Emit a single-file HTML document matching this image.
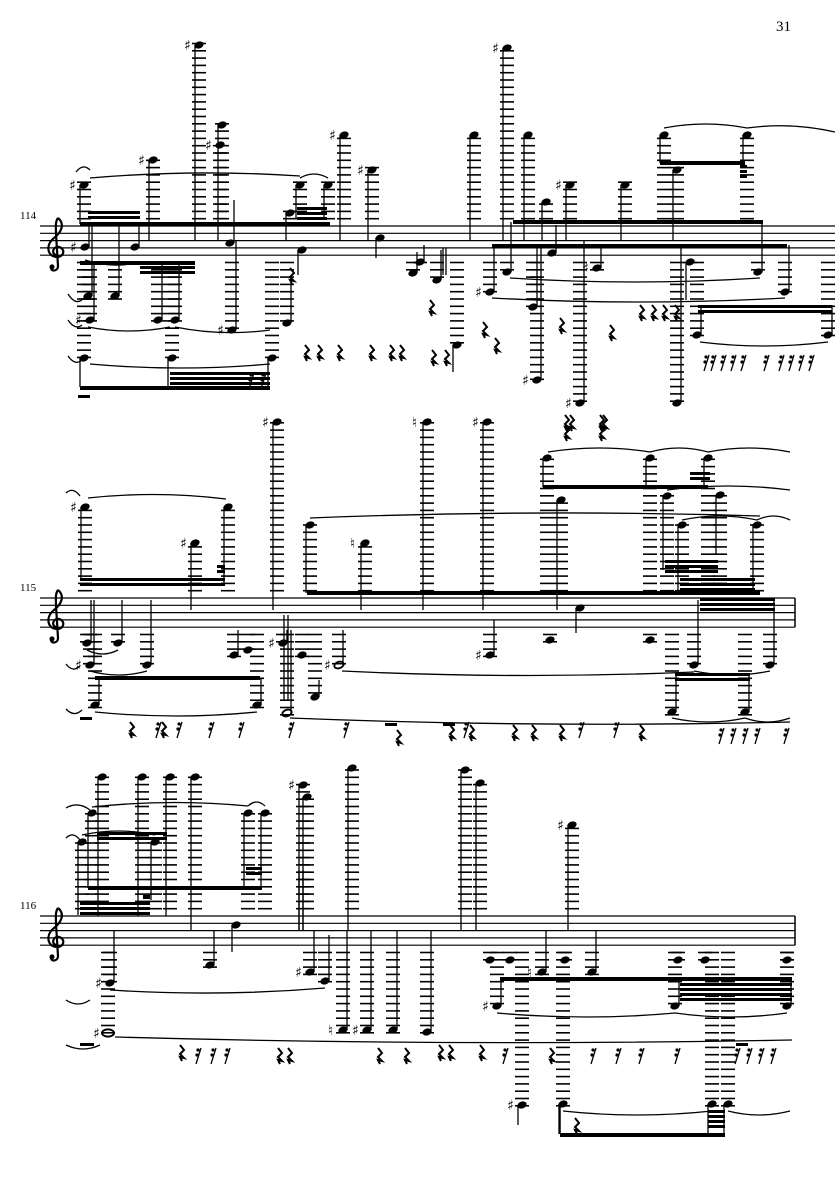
<!DOCTYPE html>
<html><head><meta charset="utf-8"><style>
html,body{margin:0;padding:0;background:#fff;}
svg{display:block;}
</style></head><body>
<svg id="s" xmlns="http://www.w3.org/2000/svg" width="835" height="1181" viewBox="0 0 835 1181">
<rect width="835" height="1181" fill="#fff"/>
<text x="776" y="31" font-family="Liberation Serif, serif" font-size="15">31</text>
<text x="20" y="219" font-family="Liberation Serif, serif" font-size="11">114</text>
<text x="20" y="591" font-family="Liberation Serif, serif" font-size="11">115</text>
<text x="20" y="909" font-family="Liberation Serif, serif" font-size="11">116</text>
<g id="g"></g>
</svg>
<script>
var S=7.3,o=[];
function L(x1,y1,x2,y2,w){o.push('<line x1="'+x1+'" y1="'+y1+'" x2="'+x2+'" y2="'+y2+'" stroke="#000" stroke-width="'+(w||1)+'"/>');}
function R(x,y,w,h){o.push('<rect x="'+x+'" y="'+y+'" width="'+w+'" height="'+h+'" fill="#000"/>');}
function staff(T,x1,x2){for(var i=0;i<5;i++)L(x1,T+i*S,x2,T+i*S,1.2);}
function clef(x,T){var g=T+3*S;o.push('<path transform="translate('+x+','+g+')" d="M3,-30 C10,-24 7,-16 -2,-9 C-9,-3 -8,8 1,9 C9,10 11,1 4,-1 C-2,-2 -4,6 1,7 M3,-30 C0,-26 1,-20 1,-14 L3,18 C3,24 -5,24 -4,19" fill="none" stroke="#000" stroke-width="2.2"/>');o.push('<circle cx="'+(x-3)+'" cy="'+(g+19)+'" r="2.5"/>');}
function note(T,n){var hx=n[0],y=n[1],se=n[2],acc=n[3],tp=n[4],B=T+4*S,k;
 if(y<T-3){for(k=1;T-k*S>=y-3;k++)L(hx-7,T-k*S,hx+7,T-k*S,1.6);}
 if(y>B+3){for(k=1;B+k*S<=y+3;k++)L(hx-7,B+k*S,hx+7,B+k*S,1.6);}
 if(tp=='w'){o.push('<ellipse cx="'+hx+'" cy="'+y+'" rx="6" ry="3.6" fill="none" stroke="#000" stroke-width="2"/>');}
 else if(tp=='h'){o.push('<ellipse cx="'+hx+'" cy="'+y+'" rx="4.8" ry="3.2" fill="none" stroke="#000" stroke-width="1.8" transform="rotate(-20 '+hx+' '+y+')"/>');}
 else o.push('<ellipse cx="'+hx+'" cy="'+y+'" rx="4.8" ry="3.4" transform="rotate(-20 '+hx+' '+y+')"/>');
 if(se!=null){var sx=se>y?hx-4:hx+4;L(sx,y,sx,se,1.3);}
 if(acc){var c=acc=='#'?'\u266F':'\u266E';o.push('<text x="'+(hx-15)+'" y="'+(y+5)+'" font-family="DejaVu Sans, sans-serif" font-size="14">'+c+'</text>');}
}
function rest(x,y){o.push('<path d="M'+x+','+y+' l4,5 l-4,4 l4,4 l-4,-1 l2,4" fill="none" stroke="#000" stroke-width="2"/>');}
function r16(x,y){L(x+4,y,x-1,y+16,1.3);o.push('<circle cx="'+(x+1)+'" cy="'+(y+2)+'" r="1.6"/><circle cx="'+(x)+'" cy="'+(y+7)+'" r="1.6"/>');}
function tie(x1,y1,x2,y2,up){var mx=(x1+x2)/2,my=(y1+y2)/2+(up?-8:8);o.push('<path d="M'+x1+','+y1+' Q'+mx+','+my+' '+x2+','+y2+'" fill="none" stroke="#000" stroke-width="1.3"/>');}
function beams(a){a.forEach(function(b){var h=b[3];if(h<=5){R(b[0],b[2],b[1]-b[0],h);}else{var n=Math.max(2,Math.round((h+2)/5));for(var i=0;i<n;i++)R(b[0],b[2]+i*5,b[1]-b[0],3);}});}

var TA=226,TB=598,TC=916;
staff(TA,40,835);clef(55,TA);
[[84,185,224,'#'],[153,160,240,'#'],[199,45,240,'#'],[222,125,240],[220,145,null,'#'],[290,213,240],[300,185,218],[328,185,218],[344,135,240,'#'],[372,170,240,'#'],[474,135,240],[507,48,240,'#'],[528,135,240],[546,202,240],[570,185,240,'#'],[625,185,240],[664,135,163],[677,170,240],[747,135,163],
[85,247,224,'#'],[135,247,224],[230,243,200],[302,250,275],[380,238,258],[552,253,225],
[88,296,224],[115,296,224],[90,320,263,'#'],[158,320,263],[175,320,263],[84,358,387],[172,358,387],[272,358,387],[232,330,240,'#'],[287,323,285],[413,273,252],[437,280,250],[457,345,372],[490,292,245,'#'],[507,272,222],[533,307,245],[537,380,245,'#'],[580,403,240,'#'],[597,268,245,'#'],[677,403,245],[758,272,222],[785,292,245],[697,335,305],[828,335,305],[420,262,245],[690,262,300]
].forEach(function(n){note(TA,n);});
beams([[80,330,222,4],[88,140,211,7],[297,327,207,11],[513,763,220,4],[492,787,244,4],[660,745,161,4],[80,195,261,4],[140,195,266,10],[80,270,386,4],[170,270,372,14],[698,832,305,10],[740,747,165,14]]);
L(443,248,443,275,1.3);L(446,248,446,275,1.3);
tie(90,178,300,176,1);tie(300,178,328,178,1);tie(85,260,140,262,0);tie(88,327,170,327,0);tie(175,327,270,330,0);tie(90,364,270,364,0);tie(510,278,760,278,0);tie(492,298,785,298,0);tie(700,342,828,342,0);tie(664,128,747,128,1);tie(747,128,835,132,1);tie(76,172,90,170,1);tie(68,294,82,300,0);tie(68,320,82,325,0);tie(68,356,82,360,0);
[[305,345],[318,345],[338,345],[370,345],[390,345],[400,345],[430,300],[483,322],[495,338],[560,318],[610,325],[640,305],[652,305],[663,305],[675,305],[565,415],[600,415],[432,350],[445,350],[290,268]].forEach(function(r){rest(r[0],r[1]);});
[705,712,722,732,742,765,780,790,800,810].forEach(function(x){r16(x,355);});
[250,262].forEach(function(x){r16(x,373);});
o.push('<rect x="78" y="395" width="12" height="3"/>');

staff(TB,40,795);clef(55,TB);L(795,TB,795,TB+4*S,1.5);
[[85,507,578,'#'],[195,543,610,'#'],[228,507,585],[277,422,610,'#'],[310,525,593],[365,543,610,'n'],[427,422,610,'n'],[487,422,610,'#'],[547,458,487],[561,500,610],[650,458,487],[708,458,487],[667,496,570],[720,495,555],[682,525,590],[757,525,590],
[87,643,600],[118,643,600],[90,665,600,'#'],[147,665,600],[95,705,678],[257,705,678],[234,655,630],[283,643,630,'#'],[287,713,630,null,'h'],[315,697,680],[339,665,630,'#','h'],[490,655,620,'#'],[580,608,633],[694,665,600],[770,665,600],[672,712,673],[745,712,673],[248,650,null],[302,655,null],[550,640,null],[650,640,null]
].forEach(function(n){note(TB,n);});
beams([[80,225,578,8],[307,760,591,4],[543,708,485,4],[690,710,472,10],[665,718,560,14],[680,755,578,12],[700,775,598,14],[95,260,676,4],[675,750,673,6],[217,225,565,6]]);
L(284,615,284,700,1.3);L(288,615,288,700,1.3);
tie(88,498,226,499,1);tie(310,518,760,516,1);tie(548,452,650,452,1);tie(650,452,708,452,1);tie(708,452,790,452,1);tie(667,490,790,490,1);tie(682,520,757,520,1);tie(757,520,790,520,1);tie(87,650,118,650,0);tie(90,671,147,671,0);tie(95,712,257,712,0);tie(290,718,790,722,0);tie(342,671,694,672,0);tie(694,671,770,671,0);tie(672,718,745,718,0);tie(745,718,790,718,0);tie(66,493,80,496,1);tie(66,709,82,710,0);tie(66,664,80,666,0);
[[130,722],[162,722],[397,730],[450,725],[470,725],[513,725],[532,725],[560,725],[640,725],[565,425],[600,425],[570,415],[603,415]].forEach(function(r){rest(r[0],r[1]);});
[157,178,210,240,290,345,465,580,615].forEach(function(x){r16(x,722);});
[720,732,744,756,785].forEach(function(x){r16(x,728);});
o.push('<rect x="80" y="717" width="12" height="3"/><rect x="385" y="723" width="12" height="3"/><rect x="443" y="723" width="12" height="3"/>');

staff(TC,40,795);clef(55,TC);L(795,TC,795,TC+4*S,1.5);
[[102,777,916],[142,777,916],[170,777,916],[195,777,930],[92,813,888],[248,813,888],[265,813,888],[82,842,915],[155,842,900],[303,785,930,'#'],[307,797,930],[352,768,930],[465,770,930],[480,783,930],[572,825,930,'#'],
[110,983,930,'#'],[108,1033,null,'#','w'],[210,965,930],[236,925,952],[310,972,930,'#'],[325,981,935],[343,1030,930,'n'],[367,1030,930,'#'],[393,1030,930],[427,1032,930],[497,1006,978,'#'],[542,972,930,'n'],[592,972,930],[675,1006,978],[787,1006,978],[522,1105,1125,'#'],[563,1104,1134],[712,1104,1134],[728,1104,1134],[490,960,null],[510,960,null],[565,960,null],[678,960,null],[705,960,null],[787,960,null]
].forEach(function(n){note(TC,n);});
beams([[97,167,832,8],[88,262,886,4],[80,150,902,14],[500,792,977,4],[680,792,983,16],[560,725,1133,4],[708,725,1110,20],[246,262,867,10],[143,150,895,4]]);
L(299,870,299,930,1.3);L(303,870,303,930,1.3);
tie(82,835,155,835,1);tie(92,807,248,806,1);tie(248,806,265,806,1);tie(110,990,325,988,0);tie(115,1037,792,1040,0);tie(497,1013,675,1013,0);tie(675,1013,787,1013,0);tie(563,1111,712,1111,0);tie(728,1111,790,1111,0);tie(66,838,80,840,1);tie(66,808,90,810,1);tie(66,1000,90,1000,0);tie(66,1045,100,1045,0);
[[180,1045],[278,1048],[288,1048],[378,1048],[405,1048],[439,1045],[449,1045],[480,1045],[550,1048],[575,1118]].forEach(function(r){rest(r[0],r[1]);});
[197,212,226,504,592,617,640,676,736,748,760,772].forEach(function(x){r16(x,1048);});
o.push('<rect x="80" y="1043" width="14" height="3"/><rect x="736" y="1043" width="12" height="3"/>');
L(560,1104,560,1134,1.5);
document.getElementById('g').innerHTML=o.join('');
</script>
</body></html>
